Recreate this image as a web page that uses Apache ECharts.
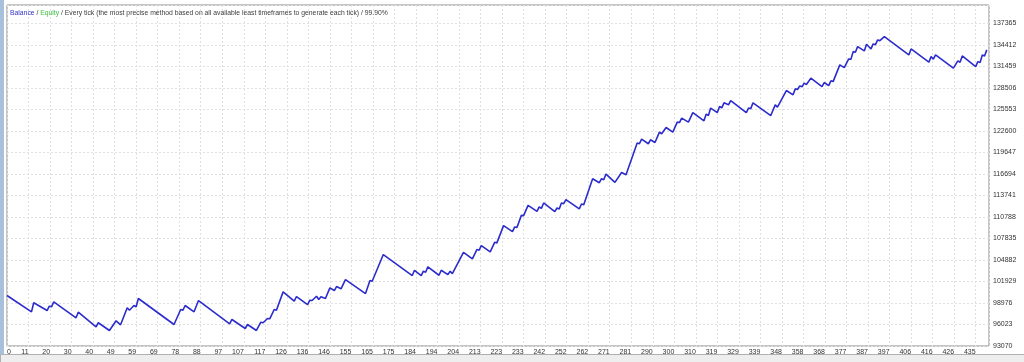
<!DOCTYPE html>
<html>
<head>
<meta charset="utf-8">
<script src="https://cdn.jsdelivr.net/npm/echarts@6/dist/echarts.min.js"></script>
<style>
  html, body { margin: 0; padding: 0; background: #ffffff; }
  #chart { width: 1024px; height: 362px; }
</style>
</head>
<body>
<div id="chart"></div>
<script>
// Trade number (x) and account balance (y)
const tradeNo = [0,11,12,18,19,20,21,31,32,40,41,46,49,51,54,55,57,58,59,75,78,79,80,84,86,
  100,101,107,108,112,114,115,117,118,120,121,124,129,130,135,136,137,139,140,141,143,145,147,148,150,
  152,161,163,164,169,182,183,186,187,188,189,194,195,198,199,200,205,209,211,212,213,217,219,220,
  223,227,228,229,231,232,234,238,239,240,241,246,247,248,249,250,251,257,258,259,263,266,267,268,269,
  273,276,278,283,284,285,288,289,291,293,294,296,299,301,302,303,306,308,313,314,315,316,319,320,321,
  322,324,325,332,333,334,335,343,345,346,350,353,354,355,356,357,358,359,361,366,367,369,370,371,
  374,376,378,379,380,381,382,385,386,388,389,390,391,392,394,405,406,414,415,416,417,425,427,428,429,
  435,436,437,438,439,440];
const balance = [100000,97760,99000,97940,98530,98450,99130,96940,97710,95710,96260,95200,96530,95980,98310,97980,98630,98450,99590,96020,98080,97980,98630,97760,99310,
  96120,96710,95470,96020,95200,96340,96260,96850,96800,98080,97980,100500,99220,99860,98760,99350,99310,99900,99450,99820,99590,101050,100680,101230,100920,
  102190,100270,102050,101960,105620,102740,103460,102740,103330,103190,103930,102780,103460,102870,103330,103010,105930,105030,106300,106210,106850,105990,107300,107220,
  109590,108770,109410,109320,111000,110960,112370,111550,112150,111960,112700,111510,112010,111880,112700,112600,113150,111880,112560,112470,116030,115480,116030,115890,116670,
  115520,116890,116570,120920,120830,121470,120830,121370,121000,122430,122200,123060,122430,123800,123740,124350,123800,125110,123980,124900,124700,125720,125110,125940,125760,
  126440,126170,126760,125110,125720,125620,126440,124700,126170,125850,128130,127540,128360,128270,128770,128640,129140,128950,129830,128680,129230,128810,129460,129360,
  131650,131280,132470,132430,133470,133390,134160,133570,134490,133840,134530,134430,135080,134980,135530,133020,133840,132020,132790,132430,133020,131200,132200,132020,132880,
  131420,132100,131970,133020,132880,133710];

// Axis tick labels as printed on the reference
const xTickLabels = [0,11,20,30,40,49,59,69,78,88,97,107,117,126,136,146,155,165,175,184,194,204,213,223,233,
  242,252,262,271,281,290,300,310,319,329,339,348,358,368,377,387,397,406,416,426,435];
const xStep = 9.6667;
const xMax = 441;
const yMin = 93070;
const yMax = 139870;
const yStep = 2953;

const seriesData = tradeNo.map((t, i) => [t, balance[i]]);

const chart = echarts.init(document.getElementById('chart'), null, { renderer: 'canvas' });
chart.setOption({
  animation: false,
  backgroundColor: '#ffffff',
  title: {
    left: 5, top: 5,
    text: '{b|Balance} / {e|Equity} / Every tick (the most precise method based on all available least timeframes to generate each tick) / 99.90%',
    textStyle: {
      fontFamily: 'Liberation Sans', fontSize: 6.8, fontWeight: 'normal', color: '#404040',
      rich: {
        b: { color: '#3434c8', fontFamily: 'Liberation Sans', fontSize: 6.8 },
        e: { color: '#3cbf3c', fontFamily: 'Liberation Sans', fontSize: 6.8 }
      }
    }
  },
  graphic: [
    { type: 'rect', left: 0, top: 0, shape: { width: 4, height: 362 }, style: { fill: '#a7c0dc' }, silent: true },
    { type: 'rect', left: 0, top: 354, shape: { width: 1024, height: 8 }, style: { fill: '#eeeeee', stroke: '#b0b0b0', lineWidth: 1 }, silent: true }
  ],
  grid: {
    left: 7, right: 35, top: 5, bottom: 16,
    show: true, borderColor: '#8a8a8a', borderWidth: 1, backgroundColor: '#ffffff'
  },
  xAxis: {
    type: 'value',
    min: 0, max: xMax, interval: xStep,
    axisLine: { show: false },
    axisTick: { show: false },
    splitLine: { show: true, lineStyle: { color: '#e0e0e0', type: [2, 2], width: 1 } },
    axisLabel: {
      show: true, margin: 3, align: 'right', alignMinLabel: 'left', showMaxLabel: false,
      fontFamily: 'Liberation Sans', fontSize: 7, color: '#333333',
      formatter: v => {
        const k = Math.round(v / xStep);
        return xTickLabels[k] !== undefined ? String(xTickLabels[k]) : '';
      }
    }
  },
  yAxis: {
    type: 'value', position: 'right',
    min: yMin, max: yMax, interval: yStep,
    axisLine: { show: false },
    axisTick: { show: false },
    splitLine: { show: true, lineStyle: { color: '#e0e0e0', type: [2, 2], width: 1 } },
    axisLabel: {
      show: true, margin: 4, showMaxLabel: false,
      fontFamily: 'Liberation Sans', fontSize: 7, color: '#333333',
      padding: [4, 0, 0, 0],
      formatter: v => String(Math.round(v))
    }
  },
  series: [{
    type: 'line',
    data: seriesData,
    showSymbol: false,
    symbol: 'none',
    lineStyle: { color: '#2c2ccc', width: 1.6 },
    z: 3
  }]
});
</script>
</body>
</html>
